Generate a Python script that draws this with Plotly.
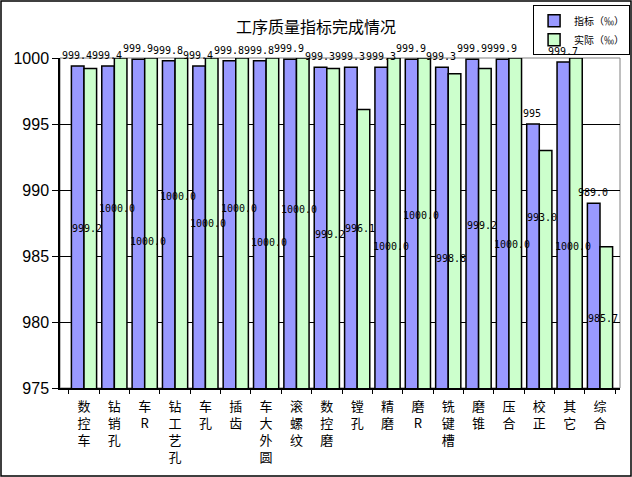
import plotly.graph_objects as go

# categories (process steps)
categories = ["数控车", "钻销孔", "车R", "钻工艺孔", "车孔", "插齿", "车大外圆", "滚螺纹",
              "数控磨", "镗孔", "精磨", "磨R", "铣键槽", "磨锥", "压合", "校正", "其它", "综合"]

# 指标 (‰)
target = [999.4, 999.4, 999.9, 999.8, 999.4, 999.8, 999.8, 999.9,
          999.3, 999.3, 999.3, 999.9, 999.3, 999.9, 999.9, 995.0, 999.7, 989.0]
target_labels = ["999.4", "999.4", "999.9", "999.8", "999.4", "999.8", "999.8", "999.9",
                 "999.3", "999.3", "999.3", "999.9", "999.3", "999.9", "999.9", "995", "999.7", "989.0"]

# 实际 (‰)
actual = [999.2, 1000.0, 1000.0, 1000.0, 1000.0, 1000.0, 1000.0, 1000.0,
          999.2, 996.1, 1000.0, 1000.0, 998.8, 999.2, 1000.0, 993.0, 1000.0, 985.7]

y_ticks = [975, 980, 985, 990, 995, 1000]

# where the 实际 labels sit in the original (they float inside the bars)
actual_label_pos = [987.1, 988.6, 986.1, 989.5, 987.5, 988.6, 986.0, 988.5,
                    986.6, 987.1, 985.7, 988.1, 984.8, 987.3, 985.9, 987.9, 985.7, 980.3]

tick_text = ["<br>".join(list(c)) for c in categories]

fig = go.Figure()
fig.add_trace(go.Bar(x=categories, y=target, name="指标（‰）",
                     marker=dict(color="#9999FF", line=dict(color="black", width=1.5))))
fig.add_trace(go.Bar(x=categories, y=actual, name="实际（‰）",
                     marker=dict(color="#CCFFCC", line=dict(color="black", width=1.5))))

num_font = dict(family="DejaVu Sans Mono", size=10, color="black")
annotations = []
for c, v, t in zip(categories, target, target_labels):
    annotations.append(dict(x=c, y=v, text=t, showarrow=False, yanchor="bottom",
                            xshift=-7, yshift=3, font=num_font))
for c, v, p in zip(categories, actual, actual_label_pos):
    annotations.append(dict(x=c, y=p, text=f"{v:.1f}", showarrow=False, xshift=3,
                            font=num_font))

fig.update_layout(
    width=632, height=477,
    margin=dict(l=60, r=12, t=58, b=89, autoexpand=False),
    paper_bgcolor="white", plot_bgcolor="white",
    barmode="group", bargap=0.17, bargroupgap=0,
    title=dict(text="工序质量指标完成情况", x=0.5, xanchor="center", y=0.942, yanchor="middle",
               font=dict(family="Noto Sans CJK SC", size=16, color="black")),
    legend=dict(x=1.018, xanchor="right", y=1.16, yanchor="top",
                bordercolor="black", borderwidth=1, bgcolor="white",
                font=dict(family="Noto Sans CJK SC", size=10, color="black"),
                itemwidth=30, tracegroupgap=0),
    annotations=annotations,
    showlegend=True,
)
fig.update_xaxes(tickmode="array", tickvals=categories, ticktext=tick_text,
                 tickangle=0, ticks="outside", tickson="boundaries", ticklen=4,
                 tickcolor="black", showline=True, linecolor="black", linewidth=1.5,
                 mirror=False, ticklabelstandoff=6,
                 tickfont=dict(family="Noto Sans CJK SC", size=13, color="black"))
fig.update_yaxes(range=[975, 1000], tickvals=y_ticks, ticks="outside", ticklen=6,
                 tickcolor="black", showline=True, linecolor="black", linewidth=1.5,
                 showgrid=True, gridcolor="black", gridwidth=1, zeroline=False,
                 tickfont=dict(family="Liberation Sans", size=16, color="black"))

# gray border on top/right of plot area and black frame around the figure
fig.add_shape(type="rect", xref="paper", yref="paper", x0=0, x1=1, y0=0, y1=1,
              line=dict(color="#808080", width=1), layer="below")
fig.add_shape(type="rect", xref="paper", yref="paper",
              x0=-59 / 560, x1=1 + 11 / 560, y0=-88 / 330, y1=1 + 57 / 330,
              line=dict(color="black", width=1.5))

fig.write_html("out.html", config={"displayModeBar": False},
               post_script="document.body.style.margin='0';")
